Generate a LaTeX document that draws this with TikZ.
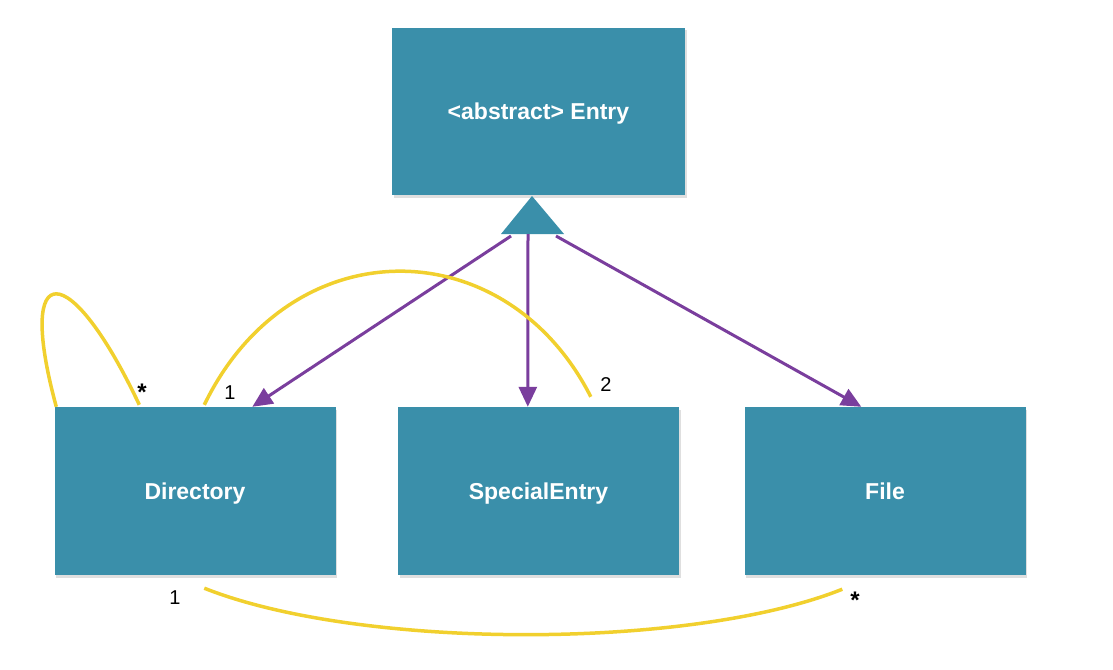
\documentclass[tikz,border=0pt]{standalone}
\usepackage{fontspec}
\setmainfont{Liberation Sans}
\usetikzlibrary{arrows.meta,shadows}
\definecolor{boxc}{HTML}{3A8FAA}
\definecolor{purp}{HTML}{7A3E9D}
\definecolor{yell}{HTML}{F1D02E}
\tikzset{
  cls/.style={fill=boxc, draw=none, minimum width=281pt, minimum height=168pt, inner sep=0pt,
    text=white, font=\fontsize{23}{26}\selectfont\bfseries, text height=16.5pt, text depth=0pt,
    drop shadow={shadow xshift=1.5pt, shadow yshift=-2.5pt, opacity=0.25}},
  gen/.style={draw=purp, line width=3pt, -{Triangle[length=20pt,width=18pt]}},
  assoc/.style={draw=yell, line width=3.5pt},
  mult/.style={font=\fontsize{20}{24}\selectfont, text=black, inner sep=0pt},
  star/.style={font=\fontsize{24}{24}\selectfont\bfseries, text=black, inner sep=0pt}
}
\begin{document}
\begin{tikzpicture}[x=1pt,y=-1pt]
\useasboundingbox (0,0) rectangle (1113,669);
\node[cls, minimum width=293pt, minimum height=167pt] (entry) at (538.5,111.5) {<abstract> Entry};
\node[cls] (dir) at (195,491) {Directory};
\node[cls] (spec) at (538.5,491) {SpecialEntry};
\node[cls] (file) at (885,491) {File};
\fill[boxc] (532,196) -- (564,234) -- (501,234) -- cycle;
\coordinate (s1) at (511,236);
\coordinate (s2) at (528,234);
\coordinate (s3) at (556,236);
\draw[gen] (s1) -- ([xshift=198pt]dir.north west);
\draw[gen] (s2) -- ([xshift=130pt]spec.north west);
\draw[gen] (s3) -- ([xshift=117pt]file.north west);
% associations
\draw[assoc] ([xshift=2pt]dir.north west) .. controls (15,255) and (70,258) .. ([xshift=85pt,yshift=2pt]dir.north west);
\draw[assoc] ([xshift=150pt,yshift=2pt]dir.north west) .. controls (290,228) and (505,228) .. ([xshift=193pt,yshift=10pt]spec.north west);
\draw[assoc] ([xshift=150pt,yshift=-13pt]dir.south west) .. controls (360,650) and (690,650) .. ([xshift=98pt,yshift=-14pt]file.south west);
\node[star] (m1) at (142,392) {*};
\node[mult] (m2) at (230,393) {1};
\node[mult] (m3) at (606,385) {2};
\node[mult] (m4) at (175,598) {1};
\node[star] (m5) at (855,600) {*};
\end{tikzpicture}
\end{document}
